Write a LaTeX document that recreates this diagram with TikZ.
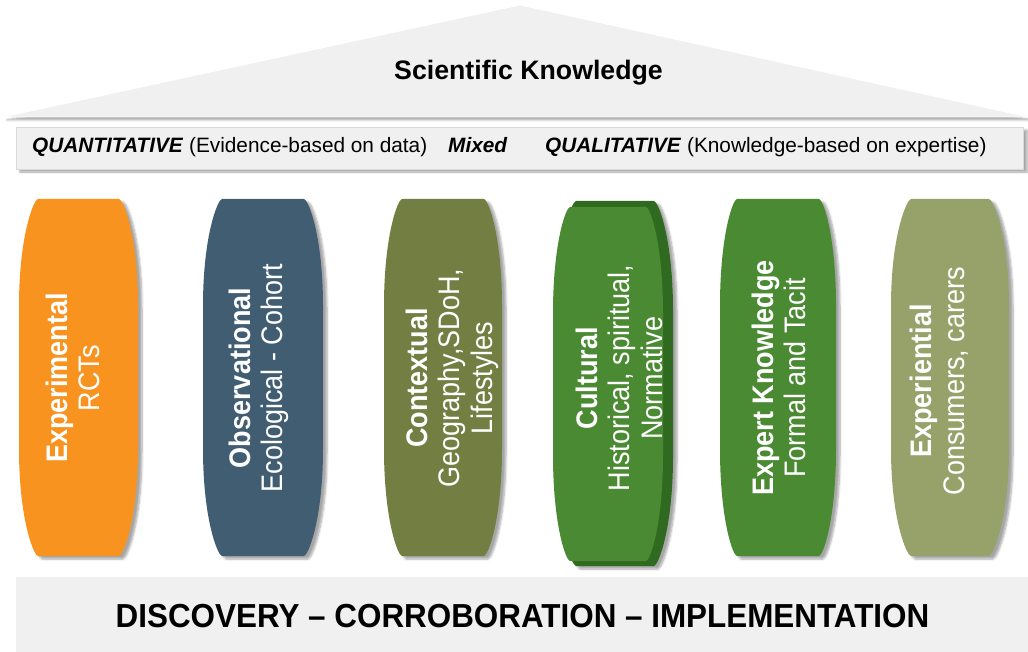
\documentclass[tikz,border=0pt]{standalone}
\usepackage{fontspec}
\setmainfont{Liberation Sans}
\usetikzlibrary{shadows.blur}
\definecolor{corange}{HTML}{F7931E}
\definecolor{cslate}{HTML}{415D72}
\definecolor{colive}{HTML}{737F42}
\definecolor{cgreen}{HTML}{4A8A32}
\definecolor{cdgreen}{HTML}{2F6A20}
\definecolor{csage}{HTML}{97A26B}
\definecolor{cpanel}{HTML}{F0F0F0}
\newcommand{\pillarshape}[6]{% x1 x2 top bottom bulge style
  \path[#6] ({#1+3},#3) -- ({#2-3},#3)
    .. controls ({#2+1},#3) and ({#2+#5},{#3+0.1*(#4-#3)}) .. ({#2+#5},{#3+0.3*(#4-#3)})
    -- ({#2+#5},{#4-0.3*(#4-#3)})
    .. controls ({#2+#5},{#4-0.1*(#4-#3)}) and ({#2+1},#4) .. ({#2-3},#4)
    -- ({#1+3},#4)
    .. controls ({#1-1},#4) and ({#1-#5},{#4-0.1*(#4-#3)}) .. ({#1-#5},{#4-0.3*(#4-#3)})
    -- ({#1-#5},{#3+0.3*(#4-#3)})
    .. controls ({#1-#5},{#3+0.1*(#4-#3)}) and ({#1-1},#3) .. ({#1+3},#3) -- cycle;}
\tikzset{
  softshadow/.style={blur shadow={shadow xshift=4pt, shadow yshift=-3pt, shadow opacity=35, shadow blur steps=6}},
  ptext/.style={rotate=90, yscale=1.1, align=center, text=white, inner sep=0pt, font=\fontsize{27}{29.5}\selectfont},
  bantext/.style={anchor=base west, inner sep=0pt, font=\fontsize{20.8}{24}\selectfont},
}
\begin{document}
\begin{tikzpicture}[x=1pt,y=-1pt]
\useasboundingbox (0,0) rectangle (1028,652);
% roof
\path[fill=cpanel, draw=white, line width=0.8pt, softshadow] (3,117) -- (520,5) -- (1028,117) -- cycle;
\node[anchor=base, inner sep=0pt, font=\fontsize{26.7}{30}\selectfont\bfseries] (roof) at (528.5,80) {Scientific Knowledge};
% banner
\path[fill=cpanel, draw=white!85!black, line width=0.5pt, softshadow] (16,127) rectangle (1023,169);
\node[bantext] (quant) at (32,153) {\textbf{\textit{QUANTITATIVE}} (Evidence-based on data)};
\node[bantext] (mixed) at (448,153) {\textbf{\textit{Mixed}}};
\node[bantext] (qual) at (545,153) {\textbf{\textit{QUALITATIVE}} (Knowledge-based on expertise)};
% pillars
\pillarshape{35}{122}{199}{556}{16}{fill=corange, softshadow}
\pillarshape{219}{307}{199}{556}{16}{fill=cslate, softshadow}
\pillarshape{399}{487}{199}{556}{15}{fill=colive, softshadow}
\pillarshape{573}{657}{201}{566}{16}{fill=cdgreen, softshadow}
\pillarshape{567}{649}{207}{561}{14}{fill=cgreen}
\pillarshape{734}{822}{199}{556}{14}{fill=cgreen, softshadow}
\pillarshape{908}{992}{199}{556}{17}{fill=csage, softshadow}
\node[ptext] (p1) at (73,378) {\textbf{Experimental}\\RCTs};
\node[ptext] (p2) at (259,378) {\textbf{Observational}\\Ecological - Cohort};
\node[ptext] (p3) at (452,378) {\textbf{Contextual}\\Geography,SDoH,\\Lifestyles};
\node[ptext] (p4) at (619,378) {\textbf{Cultural}\\Historical, spiritual,\\Normative};
\node[ptext] (p5) at (779,378) {\textbf{Expert Knowledge}\\Formal and Tacit};
\node[ptext] (p6) at (939,381) {\textbf{Experiential}\\Consumers, carers};
% base
\path[fill=cpanel] (16,577) rectangle (1028,652);
\node[anchor=base, yscale=1.06, inner sep=0pt, font=\fontsize{31.4}{36}\selectfont\bfseries] (base) at (522.5,627) {DISCOVERY – CORROBORATION – IMPLEMENTATION};
\end{tikzpicture}
\end{document}
